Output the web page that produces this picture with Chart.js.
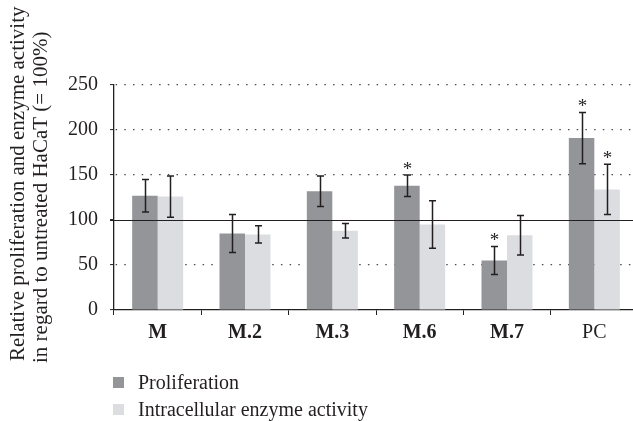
<!DOCTYPE html>
<html>
<head>
<meta charset="utf-8">
<script src="https://cdn.jsdelivr.net/npm/chart.js@4/dist/chart.umd.min.js"></script>
<style>
  html, body { margin: 0; padding: 0; background: #fff; overflow: hidden; }
  #wrap { position: relative; width: 638px; height: 421px; }
  #legend { position: absolute; left: 113px; top: 369px; font-family: "Liberation Serif", serif; font-size: 20px; color: #231f20; }
  .item { display: flex; align-items: center; height: 27px; white-space: nowrap; }
  .sw { width: 11px; height: 11px; margin-right: 14px; flex: none; }
</style>
</head>
<body>
<div id="wrap">
  <canvas id="c" width="638" height="421"></canvas>
  <div id="legend"></div>
</div>
<script>
// Groups and measured values (% of untreated HaCaT), with error half-widths
const categories = ['M', 'M.2', 'M.3', 'M.6', 'M.7', 'PC'];
const proliferation = [127, 85, 132, 138, 55, 191];
const proliferationErr = [18, 21, 17, 12, 15.5, 28.5];
const enzymeActivity = [126, 84, 88, 95, 83, 134];
const enzymeActivityErr = [23, 9.5, 8, 26.5, 22, 28];
// Significance markers (*) above the error bars
const proliferationSig = [false, false, false, true, true, true];
const enzymeActivitySig = [false, false, false, false, false, true];
const yTicks = [0, 50, 100, 150, 200, 250];
const seriesNames = ['Proliferation', 'Intracellular enzyme activity'];
const axisTitle = ['Relative proliferation and enzyme activity', 'in regard to untreated HaCaT (= 100%)'];
const referenceLevel = 100;

const INK = '#231f20';
const DARK = '#939598';
const LIGHT = '#dcdde0';
const SERIF = '"Liberation Serif", "Times New Roman", serif';

Chart.defaults.font.family = SERIF;
Chart.defaults.font.size = 20;
Chart.defaults.color = INK;

const errorSets = [proliferationErr, enzymeActivityErr];
const sigSets = [proliferationSig, enzymeActivitySig];

// Solid line at the 100 % reference level, drawn over the bars
const referenceLine = {
  id: 'referenceLine',
  afterDatasetsDraw(chart) {
    const { ctx, chartArea, scales: { y } } = chart;
    const py = Math.round(y.getPixelForValue(referenceLevel)) + 0.5;
    ctx.save();
    ctx.strokeStyle = INK;
    ctx.lineWidth = 1;
    ctx.beginPath();
    ctx.moveTo(chartArea.left - 4, py);
    ctx.lineTo(chartArea.right, py);
    ctx.stroke();
    ctx.restore();
  }
};

// Error bars with caps, plus asterisks for significant groups
const errorBars = {
  id: 'errorBars',
  afterDatasetsDraw(chart) {
    const { ctx, scales: { y } } = chart;
    ctx.save();
    chart.data.datasets.forEach((ds, di) => {
      const meta = chart.getDatasetMeta(di);
      meta.data.forEach((bar, i) => {
        const v = ds.data[i];
        const e = errorSets[di][i];
        const top = y.getPixelForValue(v + e);
        const bottom = y.getPixelForValue(v - e);
        const x = Math.round(bar.x) + 0.5;
        ctx.strokeStyle = INK;
        ctx.lineWidth = 1.5;
        ctx.beginPath();
        ctx.moveTo(x, top); ctx.lineTo(x, bottom);
        ctx.moveTo(x - 3.5, top); ctx.lineTo(x + 3.5, top);
        ctx.moveTo(x - 3.5, bottom); ctx.lineTo(x + 3.5, bottom);
        ctx.stroke();
        if (sigSets[di][i]) {
          ctx.fillStyle = INK;
          ctx.font = '19px ' + SERIF;
          ctx.textAlign = 'center';
          ctx.textBaseline = 'alphabetic';
          ctx.fillText('*', x, top - 0.5);
        }
      });
    });
    ctx.restore();
  }
};

// Two-line rotated title for the value axis
const valueAxisTitle = {
  id: 'valueAxisTitle',
  afterDraw(chart) {
    const { ctx } = chart;
    const baselines = [[23.5, 361], [46.5, 363]];
    ctx.save();
    ctx.fillStyle = INK;
    ctx.font = '21px ' + SERIF;
    ctx.textAlign = 'left';
    ctx.textBaseline = 'alphabetic';
    axisTitle.forEach((line, k) => {
      ctx.save();
      ctx.translate(baselines[k][0], baselines[k][1]);
      ctx.rotate(-Math.PI / 2);
      ctx.fillText(line, 0, 0);
      ctx.restore();
    });
    ctx.restore();
  }
};

const chart = new Chart(document.getElementById('c'), {
  type: 'bar',
  data: {
    labels: categories,
    datasets: [
      { label: seriesNames[0], data: proliferation, backgroundColor: DARK, borderWidth: 0 },
      { label: seriesNames[1], data: enzymeActivity, backgroundColor: LIGHT, borderWidth: 0 }
    ]
  },
  options: {
    responsive: false,
    animation: false,
    events: [],
    barPercentage: 1,
    categoryPercentage: 0.584,
    layout: { padding: { left: 0, right: 0, top: 85, bottom: 71 } },
    plugins: {
      legend: { display: false },
      tooltip: { enabled: false }
    },
    scales: {
      x: {
        afterFit(scale) { scale.height = 40; },
        grid: {
          offset: true,
          drawOnChartArea: false,
          drawTicks: true,
          tickLength: 5,
          tickColor: INK,
          tickWidth: 1
        },
        border: { display: true, color: INK, width: 1.3 },
        ticks: {
          padding: 6,
          color: INK,
          font: (c) => ({ size: 20, family: SERIF, weight: categories[c.index] === 'PC' ? 'normal' : 'bold' })
        }
      },
      y: {
        min: 0,
        max: 250,
        afterFit(scale) { scale.width = 114; },
        afterBuildTicks(scale) { scale.ticks = yTicks.map(v => ({ value: v })); },
        grid: {
          color: (c) => (c.tick && (c.tick.value === 0 || c.tick.value === referenceLevel)) ? 'rgba(0,0,0,0)' : '#4a4a4a',
          lineWidth: 1.2,
          drawTicks: true,
          tickLength: 4,
          tickColor: INK,
          tickWidth: 1
        },
        border: { display: true, color: INK, width: 1.3, dash: [1.5, 7.2], dashOffset: -10 },
        ticks: { padding: 12, color: INK, font: { size: 20, family: SERIF } }
      }
    }
  },
  plugins: [referenceLine, errorBars, valueAxisTitle]
});

// Legend entries built from the chart's datasets
const legend = document.getElementById('legend');
chart.data.datasets.forEach(ds => {
  const item = document.createElement('div');
  item.className = 'item';
  const sw = document.createElement('span');
  sw.className = 'sw';
  sw.style.background = ds.backgroundColor;
  const label = document.createElement('span');
  label.textContent = ds.label;
  item.appendChild(sw);
  item.appendChild(label);
  legend.appendChild(item);
});
</script>
</body>
</html>
